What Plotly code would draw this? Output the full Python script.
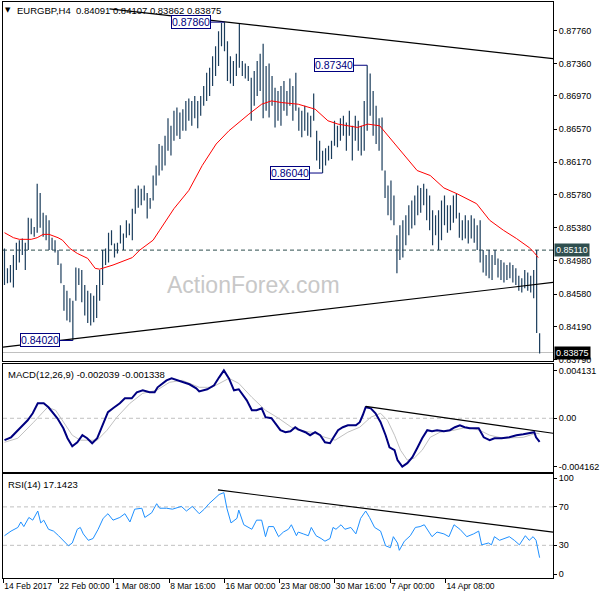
import plotly.graph_objects as go
from plotly.subplots import make_subplots

symbol_title = "EURGBP,H4"
last_ohlc = [0.84091, 0.84107, 0.83862, 0.83875]

bar_high = [
    0.8513, 0.8489, 0.8493, 0.8505, 0.8520, 0.8523, 0.8525, 0.8520, 0.8550, 0.8549,
    0.8539, 0.8591, 0.8580, 0.8556, 0.8553, 0.8547, 0.8526, 0.8523, 0.8511, 0.8495,
    0.8469, 0.8462, 0.8453, 0.8450, 0.8490, 0.8489, 0.8487, 0.8469, 0.8462, 0.8459,
    0.8456, 0.8469, 0.8487, 0.8511, 0.8513, 0.8532, 0.8535, 0.8519, 0.8520, 0.8541,
    0.8531, 0.8547, 0.8543, 0.8561, 0.8585, 0.8589, 0.8585, 0.8589, 0.8580, 0.8574,
    0.8601, 0.8613, 0.8639, 0.8637, 0.8649, 0.8670, 0.8661, 0.8679, 0.8683, 0.8677,
    0.8681, 0.8691, 0.8694, 0.8691, 0.8697, 0.8691, 0.8697, 0.8709, 0.8725, 0.8731,
    0.8745, 0.8757, 0.8775, 0.8785, 0.8786, 0.8763, 0.8745, 0.8739, 0.8748, 0.8785,
    0.8739, 0.8736, 0.8733, 0.8719, 0.8727, 0.8739, 0.8748, 0.8760, 0.8733, 0.8736,
    0.8721, 0.8707, 0.8703, 0.8709, 0.8715, 0.8703, 0.8718, 0.8709, 0.8725, 0.8683,
    0.8679, 0.8685, 0.8677, 0.8673, 0.8700, 0.8655, 0.8643, 0.8631, 0.8634, 0.8637,
    0.8643, 0.8667, 0.8661, 0.8670, 0.8673, 0.8665, 0.8679, 0.8661, 0.8673, 0.8667,
    0.8661, 0.8691, 0.8734, 0.8724, 0.8703, 0.8685, 0.8670, 0.8671, 0.8607, 0.8589,
    0.8595, 0.8577, 0.8529, 0.8541, 0.8547, 0.8553, 0.8565, 0.8571, 0.8577, 0.8589,
    0.8586, 0.8591, 0.8585, 0.8577, 0.8559, 0.8553, 0.8559, 0.8571, 0.8577, 0.8565,
    0.8565, 0.8577, 0.8579, 0.8556, 0.8547, 0.8553, 0.8547, 0.8553, 0.8549, 0.8541,
    0.8547, 0.8511, 0.8505, 0.8511, 0.8505, 0.8511, 0.8501, 0.8499, 0.8496, 0.8493,
    0.8496, 0.8493, 0.8489, 0.8480, 0.8477, 0.8487, 0.8484, 0.8480, 0.8487, 0.8511,
    0.84107,
]
bar_low = [
    0.8469, 0.8471, 0.8472, 0.8466, 0.8487, 0.8496, 0.8505, 0.8487, 0.8511, 0.8530,
    0.8527, 0.8532, 0.8538, 0.8527, 0.8523, 0.8511, 0.8511, 0.8508, 0.8493, 0.8471,
    0.8438, 0.8426, 0.8424, 0.8402, 0.8450, 0.8469, 0.8448, 0.8432, 0.8423, 0.8420,
    0.8424, 0.8429, 0.8450, 0.8469, 0.8493, 0.8496, 0.8517, 0.8502, 0.8507, 0.8519,
    0.8511, 0.8526, 0.8529, 0.8523, 0.8555, 0.8562, 0.8565, 0.8571, 0.8549, 0.8561,
    0.8571, 0.8589, 0.8601, 0.8607, 0.8613, 0.8631, 0.8625, 0.8643, 0.8649, 0.8645,
    0.8655, 0.8655, 0.8667, 0.8661, 0.8670, 0.8658, 0.8673, 0.8685, 0.8691, 0.8697,
    0.8709, 0.8721, 0.8733, 0.8757, 0.8751, 0.8715, 0.8712, 0.8709, 0.8721, 0.8731,
    0.8721, 0.8718, 0.8715, 0.8667, 0.8685, 0.8697, 0.8703, 0.8670, 0.8679, 0.8671,
    0.8685, 0.8659, 0.8667, 0.8661, 0.8679, 0.8673, 0.8685, 0.8667, 0.8679, 0.8655,
    0.8647, 0.8655, 0.8649, 0.8647, 0.8667, 0.8619, 0.8609, 0.8604, 0.8613, 0.8619,
    0.8621, 0.8637, 0.8635, 0.8643, 0.8649, 0.8631, 0.8649, 0.8619, 0.8643, 0.8631,
    0.8625, 0.8631, 0.8655, 0.8673, 0.8649, 0.8639, 0.8631, 0.8607, 0.8574, 0.8553,
    0.8547, 0.8541, 0.8483, 0.8499, 0.8502, 0.8517, 0.8529, 0.8537, 0.8541, 0.8553,
    0.8556, 0.8565, 0.8547, 0.8535, 0.8517, 0.8529, 0.8511, 0.8523, 0.8541, 0.8532,
    0.8535, 0.8544, 0.8549, 0.8526, 0.8523, 0.8525, 0.8519, 0.8525, 0.8520, 0.8511,
    0.8496, 0.8484, 0.8480, 0.8477, 0.8475, 0.8493, 0.8478, 0.8475, 0.8472, 0.8475,
    0.8477, 0.8472, 0.8469, 0.8462, 0.8460, 0.8465, 0.8462, 0.8460, 0.8453, 0.8411,
    0.83862,
]

ma_x = [0, 3, 5, 9, 11, 13, 15, 18, 19.5, 22,
        24.5, 28, 30.5, 32, 36.5, 41, 43, 45.5, 47.8, 50,
        52.2, 57, 62, 66.5, 71.2, 75.5, 82.2, 86.5, 89.8, 93.2,
        98.8, 104.5, 108.8, 112.2, 118.8, 122.2, 126.2, 132.2, 138.8, 143.2,
        147.8, 152.2, 158.8, 163.2, 167.8, 172.2, 176.5, 178.2, 179.5]
ma_y = [0.8532, 0.8526, 0.8524, 0.8524, 0.8526, 0.8530, 0.8530, 0.8526, 0.8523, 0.8513,
        0.8507, 0.8501, 0.8489, 0.8488, 0.8493, 0.8499, 0.8502, 0.8511, 0.8517, 0.8523,
        0.8535, 0.8561, 0.8583, 0.8613, 0.8639, 0.8655, 0.8675, 0.8687, 0.8691, 0.8689,
        0.8687, 0.8681, 0.8667, 0.8663, 0.8659, 0.8663, 0.8661, 0.8635, 0.8607, 0.8601,
        0.8586, 0.8579, 0.8567, 0.8547, 0.8535, 0.8525, 0.8514, 0.8508, 0.8502]

macd_x = [0, 2.2, 5.5, 7.8, 9.5, 11.2, 13.2, 14.8, 17.8, 19.8,
          21.2, 22.8, 24.5, 26.2, 27.8, 29.5, 31.2, 32.8, 34.8, 36.5,
          38.8, 40.5, 42.8, 44.5, 46.5, 48.8, 50.5, 51.5, 54.5, 56.2,
          59.5, 62.2, 64.5, 65.5, 68.2, 70.5, 72.2, 73.8, 75.5, 77.2,
          78.8, 79.8, 81.5, 83.2, 84.8, 86.5, 87.8, 89.8, 91.5, 92.8,
          94.5, 96.2, 97.8, 98.8, 101.2, 102.8, 104.5, 106.2, 107.8, 109.5,
          110.5, 112.2, 113.8, 115.5, 118.2, 119.5, 120.5, 121.5, 123.2, 124.8,
          126.5, 128.2, 129.5, 131.2, 132.2, 133.8, 135.5, 137.2, 138.8, 140.5,
          142.2, 143.8, 145.5, 147.8, 149.8, 151.5, 153.2, 154.8, 156.5, 159.5,
          161.2, 163.2, 164.8, 167.2, 169.8, 172.2, 174.5, 176.5, 178.2, 178.8,
          180]
macd_y = [-0.00189, -0.00164, -0.00077, -0.00017, 0.00043, 0.00129, 0.00129, 0.00095, 0.0, -0.00086,
          -0.00172, -0.00241, -0.00207, -0.00146, -0.00172, -0.00215, -0.00172, -0.00077, 0.00052, 0.00086,
          0.00129, 0.00172, 0.00172, 0.00224, 0.00241, 0.00224, 0.00224, 0.00267, 0.00327, 0.00344,
          0.00318, 0.00293, 0.00258, 0.00232, 0.00250, 0.00284, 0.00353, 0.00413, 0.00344, 0.00241,
          0.00250, 0.00215, 0.00155, 0.00069, 0.00069, 0.00086, 0.00009, 0.0, -0.00060, -0.00103,
          -0.00120, -0.00112, -0.00077, -0.00095, -0.00120, -0.00146, -0.00120, -0.00146, -0.00207, -0.00215,
          -0.00172, -0.00103, -0.00077, -0.00060, -0.00060, -0.00034, 0.00026, 0.00095, 0.00086, 0.00043,
          -0.00034, -0.00146, -0.00250, -0.00275, -0.00361, -0.00416, -0.00387, -0.00336, -0.00258, -0.00172,
          -0.00103, -0.00112, -0.00103, -0.00112, -0.00103, -0.00077, -0.00060, -0.00077, -0.00086, -0.00086,
          -0.00164, -0.00189, -0.00172, -0.00172, -0.00164, -0.00146, -0.00138, -0.00129, -0.00120, -0.00164,
          -0.002039]

signal_x = [0, 4.5, 9.8, 14.5, 17.2, 19.8, 22.8, 25.5, 31.2, 34.5,
            37.8, 42.2, 46.5, 51.2, 55.5, 59.8, 65.5, 69.8, 75.5, 78.8,
            83.2, 87.8, 92.2, 96.5, 98.8, 103.2, 107.8, 111.2, 115.5, 119.5,
            123.2, 126.5, 128.8, 131.2, 133.2, 135.5, 137.8, 140.5, 143.2, 146.5,
            151.2, 155.5, 159.8, 163.2, 167.8, 174.5, 178.8, 180]
signal_y = [-0.00207, -0.00172, -0.00034, 0.00095, 0.00069, -0.00034, -0.00146, -0.00189, -0.00189, -0.00103,
            0.00009, 0.00129, 0.00215, 0.00241, 0.00310, 0.00327, 0.00267, 0.00267, 0.00344, 0.00301,
            0.00181, 0.00069, 0.0, -0.00077, -0.00103, -0.00120, -0.00164, -0.00189, -0.00120, -0.00077,
            0.00009, 0.00043, -0.00017, -0.00146, -0.00275, -0.00361, -0.00344, -0.00275, -0.00164, -0.00120,
            -0.00103, -0.00077, -0.00103, -0.00146, -0.00172, -0.00164, -0.00129, -0.001338]

rsi_x = [0, 2.2, 4.5, 5.5, 6.5, 8.2, 9.5, 11.2, 12.2, 13.2,
         14.8, 16.5, 18.2, 19.8, 21.5, 22.8, 24.5, 25.5, 26.5, 28.2,
         29.8, 31.5, 33.2, 34.8, 36.5, 38.8, 40.5, 42.2, 43.8, 46.2,
         47.2, 49.5, 51.2, 52.2, 54.5, 56.5, 59.5, 61.2, 63.2, 65.5,
         67.2, 68.8, 72.2, 73.8, 74.8, 76.2, 78.2, 78.8, 80.5, 83.2,
         84.8, 86.5, 87.8, 88.8, 90.5, 92.2, 93.8, 95.5, 96.5, 98.2,
         98.8, 100.5, 102.2, 103.2, 104.8, 106.5, 107.8, 109.5, 110.5, 111.5,
         113.2, 114.5, 116.5, 118.2, 119.8, 121.5, 122.8, 124.5, 126.5, 128.2,
         129.8, 130.8, 132.2, 132.8, 134.5, 136.5, 138.2, 139.8, 141.2, 142.8,
         143.8, 145.5, 147.8, 149.5, 151.2, 153.2, 155.5, 157.8, 159.5, 160.5,
         162.8, 163.8, 164.8, 166.5, 168.2, 169.8, 171.5, 173.2, 175.2, 176.5,
         177.8, 178.8, 180]
rsi_y = [40, 44.8, 48.6, 54.3, 49.5, 59, 56.2, 65.7, 53.3, 56.2,
         46.7, 44.8, 40, 35.2, 29.5, 32.4, 46.7, 48.6, 41.9, 35.2,
         37.1, 46.7, 58.1, 62.9, 56.2, 59, 62.9, 54.3, 67.6, 68.6,
         59, 63.8, 73.3, 68.6, 68.6, 67.6, 70.5, 65.7, 70.5, 62.9,
         67.6, 73.3, 82.9, 84.8, 68.6, 53.3, 58.1, 66.7, 51.4, 46.7,
         56.2, 56.2, 39, 49.5, 49.5, 39, 43.8, 46.7, 51.4, 40,
         43.8, 41.9, 40, 48.6, 40, 37.1, 34.3, 37.1, 48.6, 46.7,
         51.4, 46.7, 48.6, 41.9, 58.1, 65.7, 59, 48.6, 44.8, 29.5,
         27.6, 39, 32.4, 24.8, 34.3, 40, 48.6, 49.5, 51.4, 43.8,
         39, 43.8, 41.9, 39, 51.4, 46.7, 39, 41.9, 44.8, 30.5,
         32.4, 30.5, 39, 35.2, 37.1, 39, 35.2, 30.5, 40, 35.2,
         39, 35.2, 17.1423]

upper_tl_x = [35.3, 184.5]
upper_tl_y = [0.8802, 0.8742]
lower_tl_x = [-0.5, 184.5]
lower_tl_y = [0.8394, 0.8472]
macd_tl_x = [121.5, 184.5]
macd_tl_y = [0.00103, -0.00129]
rsi_tl_x = [71.8, 184.5]
rsi_tl_y = [87.6, 43.8]

peak_x = [74, 122, 107, 23]
peak_y = [0.87860, 0.87340, 0.86040, 0.84020]

level_price = 0.85110
bid_price = 0.83875

price_ticks = [0.87760, 0.87360, 0.86970, 0.86570, 0.86170, 0.85780,
               0.85380, 0.84980, 0.84580, 0.84190, 0.83790]
macd_ticks = [0.004131, 0.0, -0.004162]
macd_tick_text = ["0.004131", "0.00", "-0.004162"]
rsi_ticks = [100, 70, 30, 0]
rsi_levels = [70, 30]
macd_label = "MACD(12,26,9) -0.002039 -0.001338"
rsi_label = "RSI(14) 17.1423"

x_tick_pos = [-0.45, 18.2, 36.8, 55.4, 74.0, 92.5, 111.1, 129.7, 148.3]
x_tick_text = ["14 Feb 2017", "22 Feb 00:00", "1 Mar 08:00", "8 Mar 16:00",
               "16 Mar 00:00", "23 Mar 08:00", "30 Mar 16:00", "7 Apr 00:00",
               "14 Apr 08:00"]

FONT = "Liberation Sans"
BAR_COLOR = "#1b3d5c"

fig = make_subplots(rows=3, cols=1, shared_xaxes=True, vertical_spacing=0.005)

# OHLC bars as vertical high-low segments
bx, by = [], []
for i, (h, l) in enumerate(zip(bar_high, bar_low)):
    bx += [i, i, None]
    by += [h, l, None]
fig.add_trace(go.Scatter(x=bx, y=by, mode="lines", line=dict(color=BAR_COLOR, width=1.2),
                         hoverinfo="skip", showlegend=False), row=1, col=1)
fig.add_trace(go.Scatter(x=ma_x, y=ma_y, mode="lines", line=dict(color="#ff0000", width=1),
                         showlegend=False), row=1, col=1)
fig.add_trace(go.Scatter(x=upper_tl_x, y=upper_tl_y, mode="lines", line=dict(color="black", width=1.2),
                         showlegend=False), row=1, col=1)
fig.add_trace(go.Scatter(x=lower_tl_x, y=lower_tl_y, mode="lines", line=dict(color="black", width=1.2),
                         showlegend=False), row=1, col=1)

fig.add_trace(go.Scatter(x=signal_x, y=signal_y, mode="lines", line=dict(color="#c0c0c0", width=1),
                         showlegend=False), row=2, col=1)
fig.add_trace(go.Scatter(x=macd_x, y=macd_y, mode="lines", line=dict(color="#000080", width=2),
                         showlegend=False), row=2, col=1)
fig.add_trace(go.Scatter(x=macd_tl_x, y=macd_tl_y, mode="lines", line=dict(color="black", width=1.2),
                         showlegend=False), row=2, col=1)

fig.add_trace(go.Scatter(x=rsi_x, y=rsi_y, mode="lines", line=dict(color="#1e90ff", width=1),
                         showlegend=False), row=3, col=1)
fig.add_trace(go.Scatter(x=rsi_tl_x, y=rsi_tl_y, mode="lines", line=dict(color="black", width=1.2),
                         showlegend=False), row=3, col=1)

# level lines
fig.add_shape(type="line", xref="x domain", yref="y", x0=0, x1=1, y0=level_price, y1=level_price,
              line=dict(color="#2f4f4f", width=1, dash="4px,3px"), layer="below")
fig.add_shape(type="line", xref="x domain", yref="y", x0=0, x1=1, y0=bid_price, y1=bid_price,
              line=dict(color="#c0c0c0", width=1), layer="below")
fig.add_shape(type="line", xref="x2 domain", yref="y2", x0=0, x1=1, y0=0, y1=0,
              line=dict(color="#c0c0c0", width=1, dash="4px,3px"), layer="below")
for lv in rsi_levels:
    fig.add_shape(type="line", xref="x3 domain", yref="y3", x0=0, x1=1, y0=lv, y1=lv,
                  line=dict(color="#c0c0c0", width=1, dash="4px,3px"), layer="below")

axis_common = dict(showline=True, mirror=True, linecolor="black", linewidth=1,
                   showgrid=False, zeroline=False)
yfont = dict(family=FONT, size=9, color="black")

fig.update_layout(
    width=600, height=600,
    margin=dict(l=3, r=43, t=1, b=22),
    paper_bgcolor="white", plot_bgcolor="white",
    font=dict(family=FONT, size=10, color="black"),
    showlegend=False,
    xaxis=dict(range=[-0.5, 184.5], ticks="", showticklabels=False, **axis_common),
    xaxis2=dict(range=[-0.5, 184.5], ticks="", showticklabels=False, **axis_common),
    xaxis3=dict(range=[-0.5, 184.5], tickmode="array", tickvals=x_tick_pos, ticktext=x_tick_text,
                ticks="outside", ticklen=4, tickcolor="black", ticklabelposition="outside right",
                tickangle=0, tickfont=dict(family=FONT, size=8.5, color="black"), **axis_common),
    yaxis=dict(domain=[0.3761, 1.0], range=[0.83768, 0.88103], side="right",
               tickmode="array", tickvals=price_ticks, ticktext=[f"{v:.5f}" for v in price_ticks],
               ticks="outside", ticklen=3, tickcolor="black", tickfont=yfont, **axis_common),
    yaxis2=dict(domain=[0.1837, 0.3709], range=[-0.004647, 0.004647], side="right",
                tickmode="array", tickvals=macd_ticks, ticktext=macd_tick_text,
                ticks="outside", ticklen=3, tickcolor="black", tickfont=yfont, **axis_common),
    yaxis3=dict(domain=[0.0, 0.1802], range=[-4, 104], side="right",
                tickmode="array", tickvals=rsi_ticks, ticktext=[str(v) for v in rsi_ticks],
                ticks="outside", ticklen=3, tickcolor="black", tickfont=yfont, **axis_common),
)

annos = []
# title
annos.append(dict(xref="paper", yref="paper", x=0.0, y=0.986, xanchor="left", yanchor="middle",
                  text="▼", showarrow=False, font=dict(family="DejaVu Sans", size=7, color="black")))
annos.append(dict(xref="paper", yref="paper", x=0.022, y=0.986, xanchor="left", yanchor="middle",
                  text=f"{symbol_title}  " + " ".join(f"{v:.5f}" for v in last_ohlc),
                  showarrow=False, font=dict(family=FONT, size=9.5, color="black")))
annos.append(dict(xref="paper", yref="paper", x=0.006, y=0.3536, xanchor="left", yanchor="middle",
                  text=macd_label, showarrow=False, font=dict(family=FONT, size=9.5, color="black")))
annos.append(dict(xref="paper", yref="paper", x=0.006, y=0.163, xanchor="left", yanchor="middle",
                  text=rsi_label, showarrow=False, font=dict(family=FONT, size=9.5, color="black")))
# watermark
annos.append(dict(xref="paper", yref="paper", x=0.455, y=0.508, xanchor="center", yanchor="middle",
                  text="ActionForex.com", showarrow=False,
                  font=dict(family=FONT, size=23, color="#c8c8c8")))
# peak / trough labels
for px_, py_ in zip(peak_x, peak_y):
    annos.append(dict(xref="x", yref="y", x=px_, y=py_, text=f"{py_:.5f}",
                      showarrow=True, arrowhead=0, arrowwidth=1, arrowcolor="#000080",
                      ax=-33, ay=0, standoff=0, startstandoff=0,
                      bordercolor="#000080", borderwidth=1, borderpad=0, bgcolor="white",
                      font=dict(family=FONT, size=10.5, color="#000080")))
# price boxes on axis
annos.append(dict(xref="paper", yref="y", x=1, y=level_price, xanchor="left", yanchor="middle",
                  xshift=1, text=f"{level_price:.5f}", showarrow=False, bgcolor="#2f4f4f",
                  borderpad=1, font=dict(family=FONT, size=9, color="white")))
annos.append(dict(xref="paper", yref="y", x=1, y=bid_price, xanchor="left", yanchor="middle",
                  xshift=1, text=f"{bid_price:.5f}", showarrow=False, bgcolor="black",
                  borderpad=1, font=dict(family=FONT, size=9, color="white")))
fig.update_layout(annotations=annos)

fig.write_html("out.html", config={"displayModeBar": False},
               post_script="document.body.style.margin='0px';")
